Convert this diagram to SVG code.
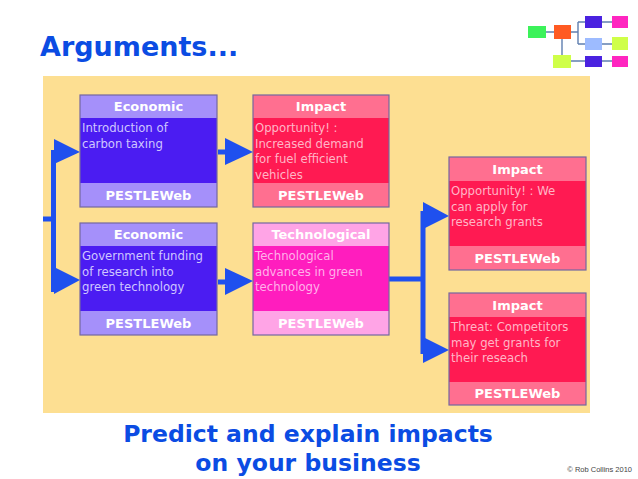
<svg xmlns="http://www.w3.org/2000/svg" width="638" height="479" viewBox="0 0 638 479">
<defs>
<style>
.title{font-family:"DejaVu Sans","Verdana",sans-serif;font-weight:bold;fill:#0B4CE3}
.hd{font-family:"DejaVu Sans",sans-serif;font-weight:bold;font-size:13px;fill:#ffffff;text-anchor:middle}
.ft{font-family:"DejaVu Sans",sans-serif;font-weight:bold;font-size:13px;fill:#ffffff;text-anchor:middle}
.bd{font-family:"DejaVu Sans",sans-serif;font-size:11.7px}
.frame{fill:none;stroke:#7468A0;stroke-width:1.2}
.eco-h{fill:#A590FA}.eco-b{fill:#4B1CF2}.eco-t{fill:#CFC6FF}
.imp-h{fill:#FF6F90}.imp-b{fill:#FF1A52}.imp-t{fill:#FFB6C6}
.tec-h{fill:#FFA4E6}.tec-b{fill:#FF1DBE}.tec-t{fill:#FFB2EA}
.ln{fill:none;stroke:#1F50EE;stroke-width:5}
.ah{fill:#1F50EE}
.tl{fill:none;stroke:#5F7FB0;stroke-width:1.4}
</style>
</defs>
<rect x="0" y="0" width="638" height="479" fill="#ffffff"/>
<text class="title" x="40" y="56" font-size="27">Arguments...</text>

<g id="thumbnail">
<path class="tl" d="M546,32 H554 M571,32 H578 M578,22 V44 M578,22 H585 M578,44 H585 M602,22 H612 M602,44 H612 M562,39 V55 M571,61 H585 M602,61 H612"/>
<rect x="528" y="26" width="18" height="12" fill="#3CF25A"/>
<rect x="554" y="25" width="17" height="14" fill="#FF5A22"/>
<rect x="585" y="16" width="17" height="12" fill="#4A22E0"/>
<rect x="612" y="16" width="16" height="12" fill="#FF26C0"/>
<rect x="585" y="38" width="17" height="12" fill="#9DBBFF"/>
<rect x="612" y="37" width="16" height="13" fill="#CFFF48"/>
<rect x="553" y="55" width="18" height="13" fill="#CFFF48"/>
<rect x="585" y="56" width="17" height="11" fill="#4A22E0"/>
<rect x="612" y="56" width="16" height="11" fill="#FF26C0"/>
</g>

<rect id="panel" x="43" y="76" width="547" height="337" fill="#FDDF92"/>

<g id="connectors">
<path class="ln" d="M43,219 H54 M53.5,150 V292"/>
<polygon class="ah" points="54,139 80,152 54,164"/>
<polygon class="ah" points="54,267 80,280 54,294"/>
<path class="ln" d="M218,152 H227 M218,282 H227"/>
<polygon class="ah" points="225,138 253,152 225,165"/>
<polygon class="ah" points="225,268 253,281 225,295"/>
<path class="ln" d="M389,279 H424 M423,211 V354"/>
<polygon class="ah" points="423,202 449,216 423,229"/>
<polygon class="ah" points="423,337 449,350 423,363"/>
</g>

<g id="n1">
<rect class="eco-h" x="80" y="95" width="137" height="23"/>
<rect class="eco-b" x="80" y="118" width="137" height="65"/>
<rect class="eco-h" x="80" y="183" width="137" height="24"/>
<rect class="frame" x="80" y="95" width="137" height="112"/>
<text class="hd" x="148.5" y="111">Economic</text>
<text class="bd eco-t" x="82" y="132">Introduction of</text>
<text class="bd eco-t" x="82" y="148">carbon taxing</text>
<text class="ft" x="148.5" y="199.5">PESTLEWeb</text>
</g>

<g id="n2">
<rect class="eco-h" x="80" y="223" width="137" height="23"/>
<rect class="eco-b" x="80" y="246" width="137" height="65"/>
<rect class="eco-h" x="80" y="311" width="137" height="24"/>
<rect class="frame" x="80" y="223" width="137" height="112"/>
<text class="hd" x="148.5" y="239">Economic</text>
<text class="bd eco-t" x="82" y="260">Government funding</text>
<text class="bd eco-t" x="82" y="275.5">of research into</text>
<text class="bd eco-t" x="82" y="291">green technology</text>
<text class="ft" x="148.5" y="327.5">PESTLEWeb</text>
</g>

<g id="n3">
<rect class="imp-h" x="253" y="95" width="136" height="23"/>
<rect class="imp-b" x="253" y="118" width="136" height="65"/>
<rect class="imp-h" x="253" y="183" width="136" height="24"/>
<rect class="frame" x="253" y="95" width="136" height="112"/>
<text class="hd" x="321" y="111">Impact</text>
<text class="bd imp-t" x="255" y="132">Opportunity! :</text>
<text class="bd imp-t" x="255" y="147.5">Increased demand</text>
<text class="bd imp-t" x="255" y="163">for fuel efficient</text>
<text class="bd imp-t" x="255" y="178.5">vehicles</text>
<text class="ft" x="321" y="199.5">PESTLEWeb</text>
</g>

<g id="n4">
<rect class="tec-h" x="253" y="223" width="136" height="23"/>
<rect class="tec-b" x="253" y="246" width="136" height="65"/>
<rect class="tec-h" x="253" y="311" width="136" height="24"/>
<rect class="frame" x="253" y="223" width="136" height="112"/>
<text class="hd" x="321" y="239">Technological</text>
<text class="bd tec-t" x="255" y="260">Technological</text>
<text class="bd tec-t" x="255" y="275.5">advances in green</text>
<text class="bd tec-t" x="255" y="291">technology</text>
<text class="ft" x="321" y="327.5">PESTLEWeb</text>
</g>

<g id="n5">
<rect class="imp-h" x="449" y="157" width="137" height="24"/>
<rect class="imp-b" x="449" y="181" width="137" height="65"/>
<rect class="imp-h" x="449" y="246" width="137" height="24"/>
<rect class="frame" x="449" y="157" width="137" height="113"/>
<text class="hd" x="517.5" y="173.5">Impact</text>
<text class="bd imp-t" x="451" y="195">Opportunity! : We</text>
<text class="bd imp-t" x="451" y="210.5">can apply for</text>
<text class="bd imp-t" x="451" y="226">research grants</text>
<text class="ft" x="517.5" y="262.5">PESTLEWeb</text>
</g>

<g id="n6">
<rect class="imp-h" x="449" y="293" width="137" height="24"/>
<rect class="imp-b" x="449" y="317" width="137" height="65"/>
<rect class="imp-h" x="449" y="382" width="137" height="23"/>
<rect class="frame" x="449" y="293" width="137" height="112"/>
<text class="hd" x="517.5" y="309.5">Impact</text>
<text class="bd imp-t" x="451" y="331">Threat: Competitors</text>
<text class="bd imp-t" x="451" y="346.5">may get grants for</text>
<text class="bd imp-t" x="451" y="362">their reseach</text>
<text class="ft" x="517.5" y="398">PESTLEWeb</text>
</g>

<text class="title" x="308" y="442" font-size="23.5" text-anchor="middle">Predict and explain impacts</text>
<text class="title" x="308" y="471" font-size="23.5" text-anchor="middle">on your business</text>
<text x="632" y="472" font-family="Liberation Sans, Arial, sans-serif" font-size="7.5" fill="#444444" text-anchor="end">© Rob Collins 2010</text>
</svg>
